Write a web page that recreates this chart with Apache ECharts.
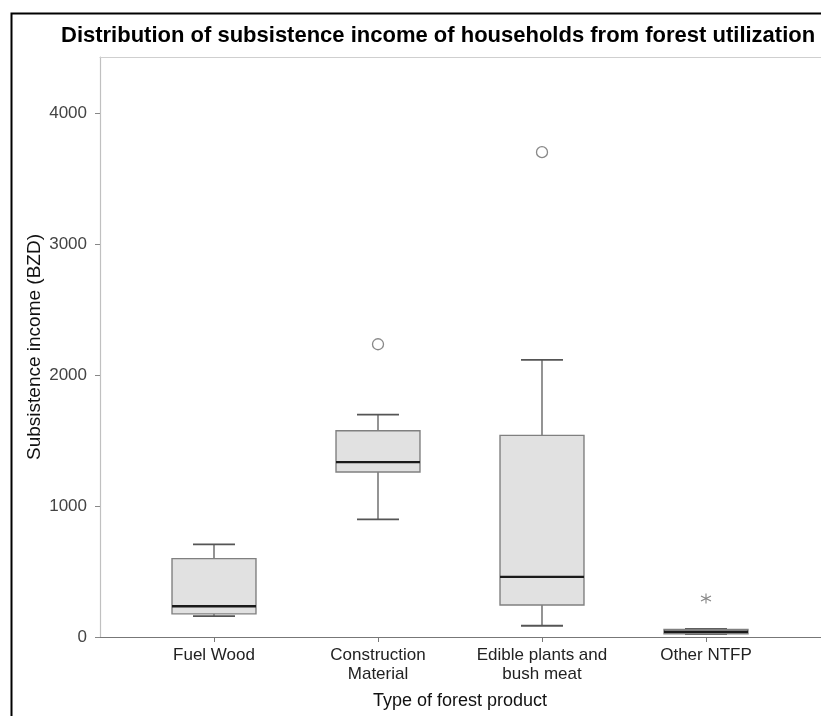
<!DOCTYPE html>
<html>
<head>
<meta charset="utf-8">
<script src="https://cdn.jsdelivr.net/npm/echarts@6/dist/echarts.min.js"></script>
<style>
  html, body { margin: 0; padding: 0; background: #fff; }
  #chart { width: 821px; height: 716px; }
</style>
</head>
<body>
<div id="chart"></div>
<script>
// Forest product categories
const categories = ['Fuel Wood', 'Construction\nMaterial', 'Edible plants and\nbush meat', 'Other NTFP'];
// Box statistics per category: [lower whisker, Q1, median, Q3, upper whisker]
const fuelWood = [159, 177, 235, 599, 708];
const construction = [899, 1260, 1336, 1575, 1699];
const ediblePlants = [86, 244, 459, 1540, 2117];
const otherNtfp = [22, 25, 40, 58, 62];
// Outliers (circle) and extreme values (asterisk): [category index, value]
const outliers = [[1, 2236], [2, 3703]];
const extremes = [[3, 294]];
// Y axis tick values
const yTicks = [0, 1000, 2000, 3000, 4000];
const yMax = 4430;

const boxStats = [fuelWood, construction, ediblePlants, otherNtfp];
const boxData = boxStats.map((s, i) => [i].concat(s));

const FONT = "'Liberation Sans', Arial, sans-serif";

function renderBox(params, api) {
  const x = api.value(0);
  const lo = api.coord([x, api.value(1)]);
  const q1 = api.coord([x, api.value(2)]);
  const md = api.coord([x, api.value(3)]);
  const q3 = api.coord([x, api.value(4)]);
  const hi = api.coord([x, api.value(5)]);
  const band = api.size([1, 0])[0];
  const bw = band * 0.512;
  const cw = bw / 2;
  const cx = lo[0];
  const whisker = { stroke: '#666', lineWidth: 1.4 };
  const cap = { stroke: '#555', lineWidth: 1.8 };
  return {
    type: 'group',
    children: [
      { type: 'line', shape: { x1: cx, y1: hi[1], x2: cx, y2: q3[1] }, style: whisker },
      { type: 'line', shape: { x1: cx, y1: q1[1], x2: cx, y2: lo[1] }, style: whisker },
      { type: 'line', shape: { x1: cx - cw / 2, y1: hi[1], x2: cx + cw / 2, y2: hi[1] }, style: cap },
      { type: 'line', shape: { x1: cx - cw / 2, y1: lo[1], x2: cx + cw / 2, y2: lo[1] }, style: cap },
      { type: 'rect', shape: { x: cx - bw / 2, y: q3[1], width: bw, height: q1[1] - q3[1] },
        style: { fill: '#e1e1e1', stroke: '#808080', lineWidth: 1.4 } },
      { type: 'line', shape: { x1: cx - bw / 2, y1: md[1], x2: cx + bw / 2, y2: md[1] },
        style: { stroke: '#1a1a1a', lineWidth: 2.4 } }
    ]
  };
}

const chart = echarts.init(document.getElementById('chart'), null, { renderer: 'canvas' });

chart.setOption({
  animation: false,
  backgroundColor: '#fff',
  title: {
    text: 'Distribution of subsistence income of households from forest utilization',
    left: 61,
    top: 25,
    padding: 0,
    textStyle: { fontFamily: FONT, fontSize: 22, fontWeight: 'bold', color: '#000' }
  },
  graphic: [{
    type: 'rect',
    left: 9, top: 11,
    shape: { width: 900, height: 800 },
    style: { fill: 'none', stroke: '#000', lineWidth: 2 },
    silent: true
  }],
  grid: [
    { left: 100, right: 0, top: 57, bottom: 79 },
    { left: 132, right: 33, top: 57, bottom: 79 }
  ],
  xAxis: [
    { gridIndex: 0, type: 'value', min: 0, max: 1, position: 'bottom',
      axisLine: { show: true, lineStyle: { color: '#777', width: 1.2 } },
      axisTick: { show: false }, axisLabel: { show: false }, splitLine: { show: false } },
    { gridIndex: 0, type: 'value', min: 0, max: 1, position: 'top',
      axisLine: { show: true, lineStyle: { color: '#cfcfcf', width: 1.2 } },
      axisTick: { show: false }, axisLabel: { show: false }, splitLine: { show: false } },
    { gridIndex: 1, type: 'category', data: categories, boundaryGap: true,
      axisLine: { show: false },
      axisTick: { show: true, alignWithLabel: true, interval: 0, length: 5, lineStyle: { color: '#777' } },
      axisLabel: { interval: 0, hideOverlap: false, fontFamily: FONT, fontSize: 17, color: '#222',
                   margin: 9, lineHeight: 19 },
      name: 'Type of forest product', nameLocation: 'middle', nameGap: 55, nameMoveOverlap: false,
      nameTextStyle: { fontFamily: FONT, fontSize: 18, color: '#111' } }
  ],
  yAxis: [
    { gridIndex: 0, type: 'value', min: 0, max: yMax,
      axisLine: { show: true, lineStyle: { color: '#c0c0c0', width: 1.2 } },
      axisTick: { show: true, length: 5, lineStyle: { color: '#888' }, customValues: yTicks },
      axisLabel: { fontFamily: FONT, fontSize: 17, color: '#444', margin: 13, customValues: yTicks,
                   formatter: v => String(v) },
      splitLine: { show: false },
      name: 'Subsistence income (BZD)', nameLocation: 'middle', nameGap: 56, nameRotate: 90,
      nameMoveOverlap: false,
      nameTextStyle: { fontFamily: FONT, fontSize: 19, color: '#111' } },
    { gridIndex: 1, type: 'value', min: 0, max: yMax, show: false, splitLine: { show: false } }
  ],
  series: [
    {
      type: 'custom', xAxisIndex: 2, yAxisIndex: 1,
      renderItem: renderBox,
      encode: { x: 0, y: [1, 2, 3, 4, 5] },
      data: boxData,
      z: 2
    },
    {
      type: 'scatter', xAxisIndex: 2, yAxisIndex: 1,
      data: outliers, symbol: 'circle', symbolSize: 11,
      itemStyle: { color: '#fff', borderColor: '#6a6a6a', borderWidth: 1.3 },
      z: 3
    },
    {
      type: 'scatter', xAxisIndex: 2, yAxisIndex: 1,
      data: extremes,
      symbol: 'path://M0,-5L0,5M-4.33,-2.5L4.33,2.5M-4.33,2.5L4.33,-2.5',
      symbolSize: 10,
      itemStyle: { color: 'none', borderColor: '#666', borderWidth: 1.1 },
      z: 3
    }
  ]
});
</script>
</body>
</html>
